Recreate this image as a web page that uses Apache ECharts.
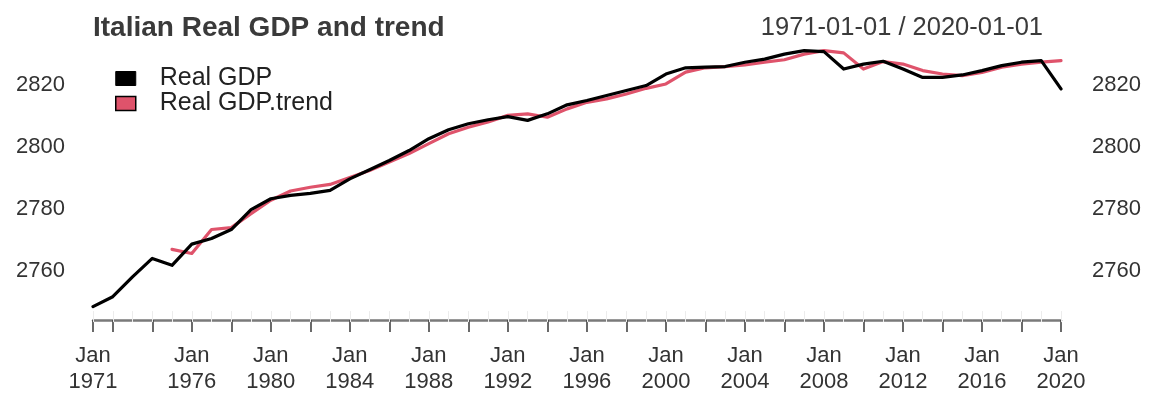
<!DOCTYPE html>
<html>
<head>
<meta charset="utf-8">
<script src="https://cdn.jsdelivr.net/npm/echarts@6/dist/echarts.min.js"></script>
<style>
  html, body { margin: 0; padding: 0; background: #ffffff; }
  #chart { width: 1150px; height: 398px; }
</style>
</head>
<body>
<div id="chart"></div>
<script>
// Annual observations, January of each year
const years = [
  1971, 1972, 1973, 1974, 1975, 1976, 1977, 1978, 1979, 1980,
  1981, 1982, 1983, 1984, 1985, 1986, 1987, 1988, 1989, 1990,
  1991, 1992, 1993, 1994, 1995, 1996, 1997, 1998, 1999, 2000,
  2001, 2002, 2003, 2004, 2005, 2006, 2007, 2008, 2009, 2010,
  2011, 2012, 2013, 2014, 2015, 2016, 2017, 2018, 2019, 2020
];

const realGdp = [
  2748.6, 2751.8, 2758.2, 2764.1, 2761.9, 2768.7, 2770.5, 2773.4, 2779.8, 2783.3,
  2784.4, 2785.0, 2786.0, 2789.7, 2792.6, 2795.6, 2798.8, 2802.6, 2805.5, 2807.4,
  2808.7, 2809.7, 2808.5, 2810.6, 2813.5, 2814.9, 2816.5, 2818.1, 2819.7, 2823.4,
  2825.4, 2825.6, 2825.8, 2827.2, 2828.2, 2829.8, 2830.9, 2830.6, 2825.0, 2826.6,
  2827.5, 2825.0, 2822.3, 2822.3, 2823.1, 2824.5, 2826.1, 2827.2, 2827.7, 2818.6
];

const realGdpTrend = [
  null, null, null, null, 2767.0, 2765.7, 2773.4, 2774.0, 2778.5, 2782.8,
  2785.8, 2787.0, 2787.9, 2790.1, 2792.4, 2795.1, 2797.8, 2801.0, 2804.2, 2806.3,
  2808.0, 2810.1, 2810.6, 2809.5, 2812.2, 2814.3, 2815.4, 2817.0, 2818.8, 2820.2,
  2824.0, 2825.4, 2825.8, 2826.3, 2827.2, 2828.0, 2829.8, 2830.9, 2830.2, 2825.0,
  2827.4, 2826.6, 2824.5, 2823.4, 2822.9, 2823.9, 2825.6, 2826.6, 2827.2, 2827.7
];

const yTicks = [2760, 2780, 2800, 2820];
const tickYears = [1971, 1972, 1974, 1976, 1978, 1980, 1982, 1984, 1986, 1988, 1990,
  1992, 1994, 1996, 1998, 2000, 2002, 2004, 2006, 2008, 2010, 2012, 2014, 2016, 2018, 2020];
const labelYears = [1971, 1976, 1980, 1984, 1988, 1992, 1996, 2000, 2004, 2008, 2012, 2016, 2020];

const textColor = '#333333';
const fontFamily = '"Liberation Sans", Arial, Helvetica, sans-serif';
const axisShift = -13.3;

const chart = echarts.init(document.getElementById('chart'), null, { renderer: 'canvas' });

const yAxisCommon = {
  type: 'value',
  min: 2740,
  max: 2840,
  interval: 20,
  axisLine: { show: false },
  axisTick: { show: false },
  splitLine: { show: false },
  axisLabel: {
    color: textColor,
    fontSize: 22,
    fontFamily: fontFamily,
    formatter: v => (yTicks.indexOf(v) >= 0 ? String(v) : '')
  }
};

chart.setOption({
  animation: false,
  backgroundColor: '#ffffff',
  title: [
    {
      text: 'Italian Real GDP and trend',
      left: 88,
      top: 9,
      textStyle: { color: '#3a3a3a', fontSize: 28, fontWeight: 'bold', fontFamily: fontFamily }
    },
    {
      text: '1971-01-01 / 2020-01-01',
      right: 102,
      top: 10,
      textStyle: { color: '#3a3a3a', fontSize: 25.5, fontWeight: 'normal', fontFamily: fontFamily }
    }
  ],
  legend: {
    orient: 'vertical',
    left: 115,
    top: 66,
    padding: 0,
    itemWidth: 20,
    itemHeight: 14,
    itemGap: 0,
    icon: 'rect',
    textStyle: {
      color: '#222222',
      fontSize: 25,
      fontFamily: fontFamily,
      lineHeight: 25,
      padding: [0, 0, 0, 19]
    },
    data: [
      { name: 'Real GDP', itemStyle: { color: '#000000', borderColor: '#000000', borderWidth: 1 } },
      { name: 'Real GDP.trend', itemStyle: { color: '#DF536B', borderColor: '#000000', borderWidth: 1.5 } }
    ]
  },
  grid: { left: 93, right: 89, top: 22.4, height: 311, containLabel: false },
  xAxis: [
    {
      type: 'category',
      data: years,
      boundaryGap: false,
      offset: axisShift,
      axisLine: { show: true, lineStyle: { color: '#7a7a7a', width: 2.5 } },
      axisTick: {
        show: true,
        length: 12,
        lineStyle: { color: '#444444', width: 1.6 },
        interval: (i, v) => tickYears.indexOf(Number(v)) >= 0
      },
      axisLabel: {
        show: true,
        color: textColor,
        fontSize: 22,
        fontFamily: fontFamily,
        lineHeight: 26,
        margin: 23,
        interval: (i, v) => labelYears.indexOf(Number(v)) >= 0,
        formatter: v => 'Jan\n' + v
      },
      splitLine: { show: false }
    },
    {
      // faint yearly marks just above the time axis
      type: 'category',
      data: years,
      boundaryGap: false,
      position: 'bottom',
      offset: axisShift + 2,
      axisLine: { show: false },
      axisTick: { show: true, inside: true, length: 11, interval: 0, lineStyle: { color: '#ececec', width: 1 } },
      axisLabel: { show: false },
      splitLine: { show: false }
    }
  ],
  yAxis: [
    Object.assign({}, yAxisCommon, { position: 'left', axisLabel: Object.assign({}, yAxisCommon.axisLabel, { margin: 28 }) }),
    Object.assign({}, yAxisCommon, { position: 'right', axisLabel: Object.assign({}, yAxisCommon.axisLabel, { margin: 31 }) })
  ],
  series: [
    {
      name: 'Real GDP.trend',
      type: 'line',
      data: realGdpTrend,
      showSymbol: false,
      connectNulls: false,
      lineStyle: { color: '#DF536B', width: 3.2, join: 'round', cap: 'round' },
      itemStyle: { color: '#DF536B' },
      z: 2
    },
    {
      name: 'Real GDP',
      type: 'line',
      data: realGdp,
      showSymbol: false,
      lineStyle: { color: '#000000', width: 3.2, join: 'round', cap: 'round' },
      itemStyle: { color: '#000000' },
      z: 3
    }
  ]
});
</script>
</body>
</html>
